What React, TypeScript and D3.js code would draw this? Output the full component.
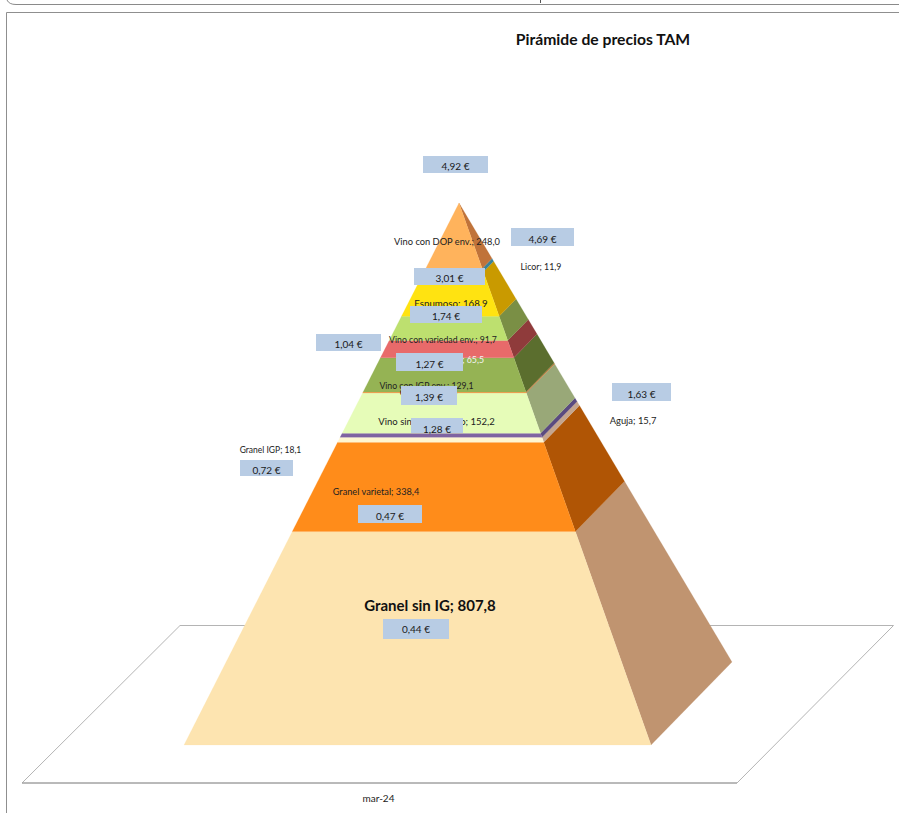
import React from "react";
import * as d3 from "d3";

// Data, bottom of the pyramid first
const seriesNames = ["Granel sin IG","Granel varietal","Granel IGP","Aguja","Vino sin IG envasado","Otros vinos","Vino con IGP env.","Vino IGP var.","Vino con variedad env.","Espumoso","Licor","Vino con DOP env."];
const seriesValues = [807.8,338.4,18.1,15.7,152.2,4.0,129.1,65.5,91.7,168.9,11.9,248.0];
const seriesLabels = ["807,8","338,4","18,1","15,7","152,2","4","129,1","65,5","91,7","168,9","11,9","248,0"];
const prices = ["0,44 €","0,47 €","0,72 €","1,63 €","1,28 €","1,39 €","1,27 €","1,04 €","1,74 €","3,01 €","4,69 €","4,92 €"];
const frontColors = ["#fde4b0","#ff8c1a","#fff6d2","#8064a2","#e6fcb8","#f5a050","#95b354","#e86a6a","#bde06f","#ffe311","#4bacc6","#ffb35c"];
const sideColors = ["#c09470","#b05505","#c4a58f","#5a4a80","#99a878","#c07a3a","#5b6e2e","#8f3b3b","#7a8f45","#c99a00","#3a8299","#c0733a"];
const categoryLabel = "mar-24";
const title = "Pirámide de precios TAM";

// Layout
const apex: [number, number] = [459, 203];
const frontLeft: [number, number] = [184, 745];
const frontRight: [number, number] = [651, 745];
const backRight: [number, number] = [732, 662];
const floor: [number, number][] = [[22, 783], [737, 783], [893.5, 625.5], [180, 625.5]];
// [cx, baseline, fontSize, anchor]
const labelPlace: [number, number, number, string, string?, number?][] = [
  [430, 610.5, 15, "middle", "#111", 700],
  [376, 495, 9.2, "middle"],
  [270.5, 453, 8.5, "middle"],
  [633, 424, 9.4, "middle"],
  [436.5, 424.5, 9.5, "middle"],
  [428.5, 396, 9.4, "middle"],
  [426.5, 389, 8.7, "middle"],
  [484, 363, 8.8, "end", "#f4f4f4"],
  [443, 343, 8.7, "middle"],
  [451, 307, 9.7, "middle"],
  [541, 270, 8.8, "middle"],
  [447, 245, 9.3, "middle"],
];
// [x0, y0, x1, y1, text baseline offset from the box centre]
const boxPlace: [number, number, number, number, number][] = [
  [383, 619, 449, 639, 3.6],
  [358, 505, 422, 523, 5.6],
  [240, 460, 293, 476, 5.6],
  [612, 383, 671, 401, 5.6],
  [411, 418, 463, 433, 7.5],
  [401, 386, 457, 405, 5.4],
  [396, 353, 463, 371, 5.6],
  [316, 334, 381, 351, 5.6],
  [410, 306, 482, 323, 5.6],
  [414, 268, 485, 285, 5.6],
  [511, 228, 574, 246, 5.6],
  [423, 156, 488, 173, 5.6],
];

const font = "Lato, 'Open Sans', sans-serif";

export default function App() {
  const cumulative = d3.cumsum(seriesValues);
  const total = cumulative[cumulative.length - 1];
  // t = 0 at the apex, t = 1 at the base
  const t = d3.scaleLinear().domain([0, total]).range([1, 0]);
  const along = (end: [number, number], v: number): [number, number] => {
    const k = t(v);
    return [apex[0] + (end[0] - apex[0]) * k, apex[1] + (end[1] - apex[1]) * k];
  };
  const path = d3.line<[number, number]>().curve(d3.curveLinearClosed);
  const bands = seriesValues.map((_, i) => {
    const lo = i === 0 ? 0 : cumulative[i - 1];
    const hi = cumulative[i];
    return {
      i,
      front: path([along(frontLeft, lo), along(frontRight, lo), along(frontRight, hi), along(frontLeft, hi)])!,
      side: path([along(frontRight, lo), along(backRight, lo), along(backRight, hi), along(frontRight, hi)])!,
    };
  });

  return (
    <svg width={899} height={813} style={{ position: "absolute", left: 0, top: 0, background: "#fff" }} fontFamily={font}>
      {/* page chrome */}
      <path d="M7,0 Q9,4.5 16,4.5 H899" fill="none" stroke="#8a8a8a" strokeWidth={1} />
      <path d="M540.5,0 V3" stroke="#555" strokeWidth={1} />
      <path d="M6.5,813 V12.5 H899" fill="none" stroke="#8f8f8f" strokeWidth={1} />
      <text x={603} y={45} textAnchor="middle" fontSize={15.7} fontWeight={700} fill="#111">{title}</text>

      {/* floor */}
      <path d={path(floor)!} fill="none" stroke="#b4b4b4" strokeWidth={1} />
      <path d="M22,783 H737" fill="none" stroke="#9a9a9a" strokeWidth={1} />

      {/* pyramid */}
      {bands.map(b => (
        <g key={b.i}>
          <path d={b.side} fill={sideColors[b.i]} stroke={sideColors[b.i]} strokeWidth={0.2} />
          <path d={b.front} fill={frontColors[b.i]} stroke={frontColors[b.i]} strokeWidth={0.2} />
        </g>
      ))}

      {/* series labels */}
      {seriesNames.map((n, i) => {
        const [x, y, fs, anchor, color, weight] = labelPlace[i];
        return (
          <text key={n} x={x} y={y} fontSize={fs} textAnchor={anchor as any} fill={color ?? "#222"} fontWeight={weight ?? 400}>
            {`${n}; ${seriesLabels[i]}`}
          </text>
        );
      })}

      {/* price boxes */}
      {prices.map((p, i) => {
        const [x0, y0, x1, y1, dy] = boxPlace[i];
        return (
          <g key={i}>
            <rect x={x0} y={y0} width={x1 - x0} height={y1 - y0} fill="#b8cce4" />
            <text x={(x0 + x1) / 2} y={(y0 + y1) / 2 + dy} textAnchor="middle" fontSize={10} fill="#1a1a1a">{p}</text>
          </g>
        );
      })}

      <text x={378.5} y={801.5} textAnchor="middle" fontSize={10} fill="#222">{categoryLabel}</text>
    </svg>
  );
}
